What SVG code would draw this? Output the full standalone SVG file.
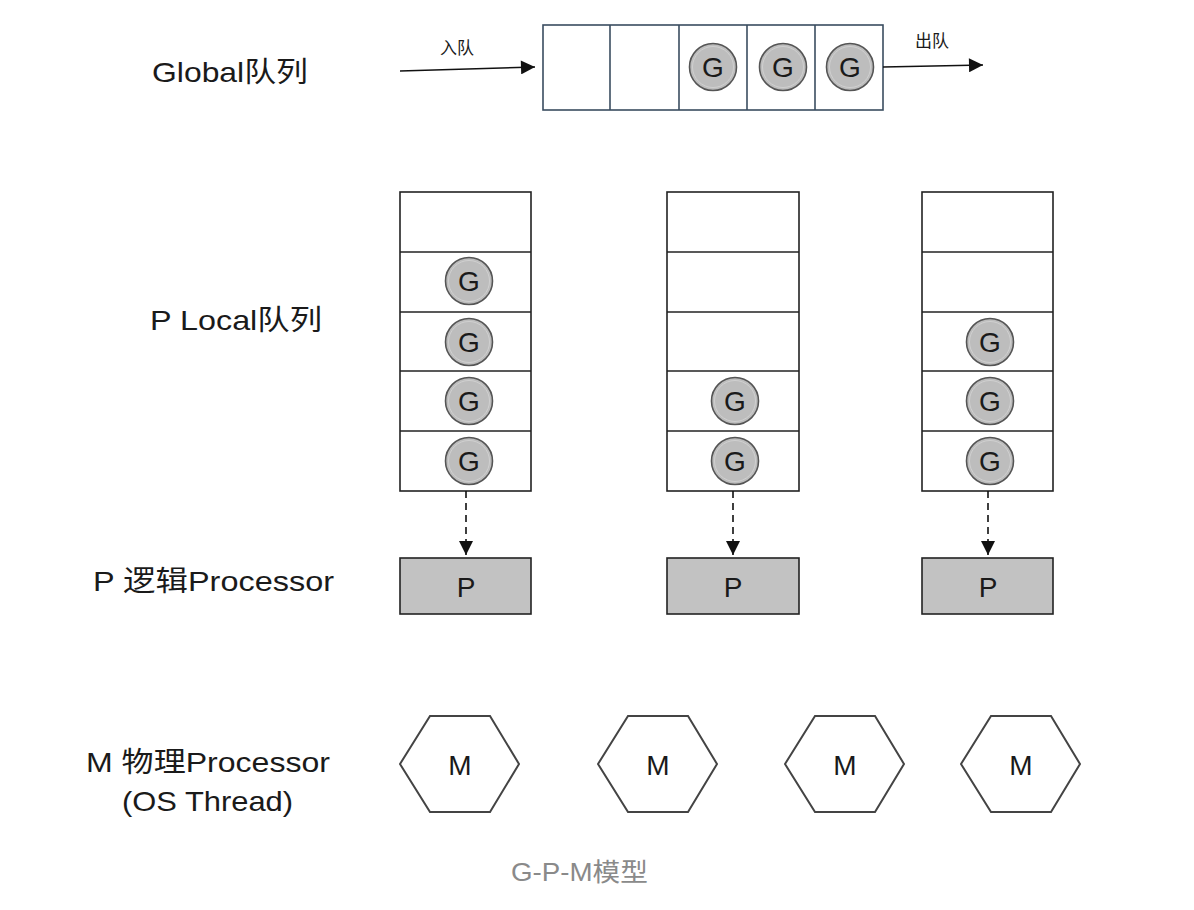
<svg xmlns="http://www.w3.org/2000/svg" width="1194" height="910" viewBox="0 0 1194 910">
<style>
text{font-family:"Liberation Sans","Noto Sans CJK SC",sans-serif;fill:#1a1a1a}
.lbl{font-size:28px}
.small{font-size:17px}
.cell{fill:#fff;stroke:#222;stroke-width:1.6}
.gcell{fill:#fff;stroke:#3a4d60;stroke-width:1.6}
.p{fill:#c2c2c2;stroke:#222;stroke-width:1.6}
.hex{fill:#fff;stroke:#444;stroke-width:2}
.ct{font-size:28px;text-anchor:middle}
.solid{stroke:#111;stroke-width:1.6;fill:none}
.dash{stroke:#111;stroke-width:1.6;fill:none;stroke-dasharray:7 5}
</style>
<defs>
<marker id="ah2" viewBox="0 0 12 12" refX="12" refY="6" markerWidth="18" markerHeight="14" markerUnits="userSpaceOnUse" orient="auto">
<path d="M0,0 L12,6 L0,12 z" fill="#111"/>
</marker>
<marker id="ah3" viewBox="0 0 12 12" refX="12" refY="6" markerWidth="17" markerHeight="14" markerUnits="userSpaceOnUse" orient="auto">
<path d="M0,0 L12,6 L0,12 z" fill="#111"/>
</marker>
<g id="gball">
<circle r="23.5" cx="0" cy="0" fill="#bdbdbd" stroke="#555" stroke-width="1.6"/>
<circle r="20.5" cx="0" cy="0" fill="none" stroke="#d0d0d0" stroke-width="1"/>
<text x="0" y="10" style="font-size:28px;text-anchor:middle">G</text>
</g>
</defs>
<rect width="1194" height="910" fill="#fff"/>

<g id="labels">
<text class="lbl" x="152" y="82" textLength="156" lengthAdjust="spacingAndGlyphs">Global队列</text>
<text class="lbl" x="150" y="330" textLength="172" lengthAdjust="spacingAndGlyphs">P Local队列</text>
<text class="lbl" x="93" y="591" textLength="241" lengthAdjust="spacingAndGlyphs">P 逻辑Processor</text>
<text class="lbl" x="86" y="772" textLength="244" lengthAdjust="spacingAndGlyphs">M 物理Processor</text>
<text class="lbl" x="122" y="811" textLength="171" lengthAdjust="spacingAndGlyphs">(OS Thread)</text>
<text x="511" y="881" style="font-size:25px;fill:#8a8a8a" textLength="137" lengthAdjust="spacingAndGlyphs">G-P-M模型</text>
</g>

<g id="global-queue">
<rect class="gcell" x="543" y="25" width="340" height="85"/>
<line class="gcell" x1="610" y1="25" x2="610" y2="110"/>
<line class="gcell" x1="679" y1="25" x2="679" y2="110"/>
<line class="gcell" x1="747" y1="25" x2="747" y2="110"/>
<line class="gcell" x1="815" y1="25" x2="815" y2="110"/>
<use href="#gball" x="713" y="67"/>
<use href="#gball" x="783" y="67"/>
<use href="#gball" x="850" y="67"/>
<text class="small" x="440" y="54">入队</text>
<text class="small" x="915" y="47">出队</text>
</g>

<g id="local-queue-1">
<rect class="cell" x="400" y="192" width="131" height="299"/>
<line class="cell" x1="400" y1="252" x2="531" y2="252"/>
<line class="cell" x1="400" y1="312" x2="531" y2="312"/>
<line class="cell" x1="400" y1="371" x2="531" y2="371"/>
<line class="cell" x1="400" y1="431" x2="531" y2="431"/>
<use href="#gball" x="469" y="281"/>
<use href="#gball" x="469" y="342"/>
<use href="#gball" x="469" y="401"/>
<use href="#gball" x="469" y="461"/>
</g>
<g id="local-queue-2">
<rect class="cell" x="667" y="192" width="132" height="299"/>
<line class="cell" x1="667" y1="252" x2="799" y2="252"/>
<line class="cell" x1="667" y1="312" x2="799" y2="312"/>
<line class="cell" x1="667" y1="371" x2="799" y2="371"/>
<line class="cell" x1="667" y1="431" x2="799" y2="431"/>
<use href="#gball" x="735" y="401"/>
<use href="#gball" x="735" y="461"/>
</g>
<g id="local-queue-3">
<rect class="cell" x="922" y="192" width="131" height="299"/>
<line class="cell" x1="922" y1="252" x2="1053" y2="252"/>
<line class="cell" x1="922" y1="312" x2="1053" y2="312"/>
<line class="cell" x1="922" y1="371" x2="1053" y2="371"/>
<line class="cell" x1="922" y1="431" x2="1053" y2="431"/>
<use href="#gball" x="990" y="342"/>
<use href="#gball" x="990" y="401"/>
<use href="#gball" x="990" y="461"/>
</g>

<g id="p1"><rect class="p" x="400" y="558" width="131" height="56"/><text class="ct" x="466" y="597">P</text></g>
<g id="p2"><rect class="p" x="667" y="558" width="132" height="56"/><text class="ct" x="733" y="597">P</text></g>
<g id="p3"><rect class="p" x="922" y="558" width="131" height="56"/><text class="ct" x="988" y="597">P</text></g>

<g id="m1"><polygon class="hex" points="400,764 430,716 490,716 519,764 490,812 430,812"/><text class="ct" x="460" y="775">M</text></g>
<g id="m2"><polygon class="hex" points="598,764 628,716 688,716 717,764 688,812 628,812"/><text class="ct" x="658" y="775">M</text></g>
<g id="m3"><polygon class="hex" points="785,764 815,716 875,716 904,764 875,812 815,812"/><text class="ct" x="845" y="775">M</text></g>
<g id="m4"><polygon class="hex" points="961,764 991,716 1051,716 1080,764 1051,812 991,812"/><text class="ct" x="1021" y="775">M</text></g>

<g id="connectors">
<line class="solid" x1="400" y1="71" x2="535" y2="67" marker-end="url(#ah2)"/>
<line class="solid" x1="883" y1="67" x2="983" y2="65" marker-end="url(#ah2)"/>
<line class="dash" x1="466" y1="491" x2="466" y2="555" marker-end="url(#ah3)"/>
<line class="dash" x1="733" y1="491" x2="733" y2="555" marker-end="url(#ah3)"/>
<line class="dash" x1="988" y1="491" x2="988" y2="555" marker-end="url(#ah3)"/>
</g>
</svg>
